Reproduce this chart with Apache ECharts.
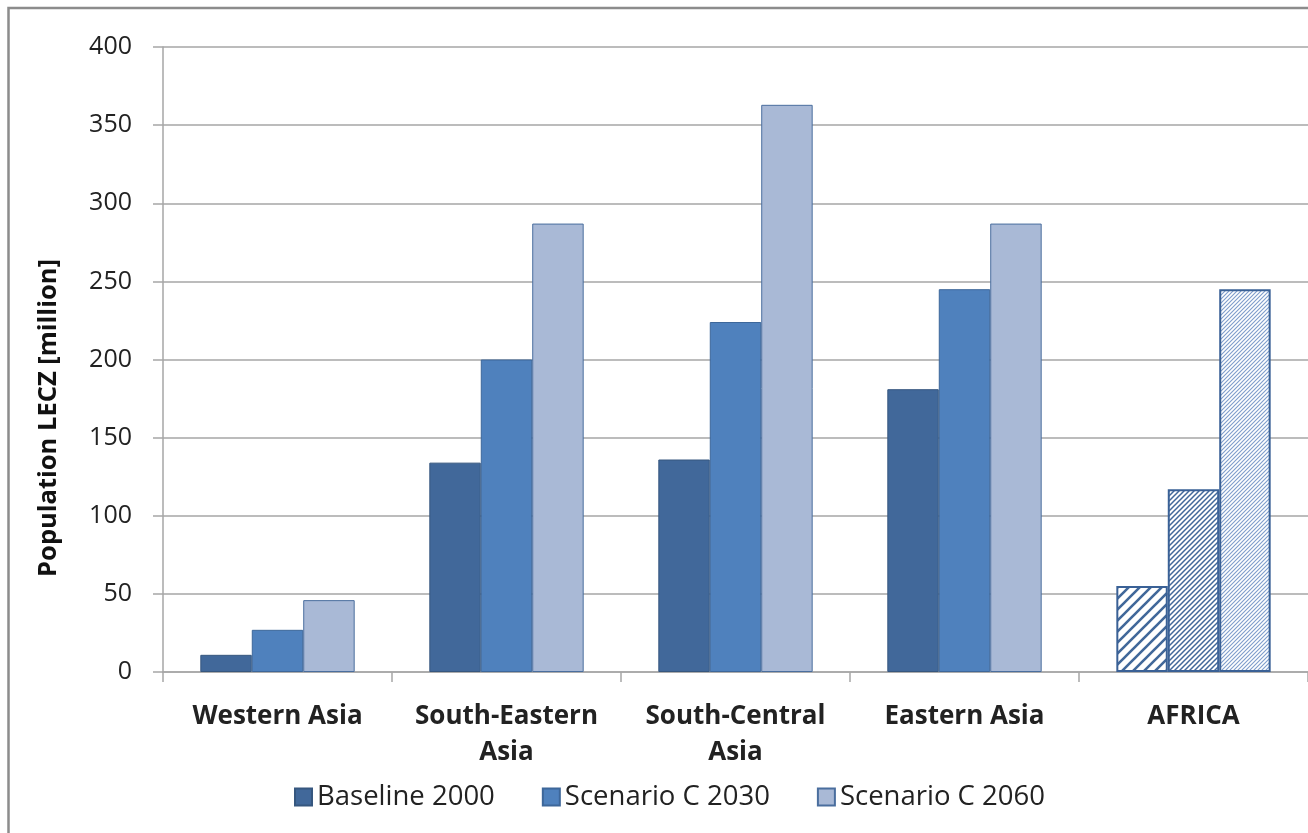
<!DOCTYPE html>
<html>
<head>
<meta charset="utf-8">
<script src="https://cdn.jsdelivr.net/npm/echarts@6/dist/echarts.min.js"></script>
<style>
html,body{margin:0;padding:0;background:#fff;}
#chart{width:1308px;height:833px;}
</style>
</head>
<body>
<div id="chart"></div>
<script>
const categories = ['Western Asia', 'South-Eastern\nAsia', 'South-Central\nAsia', 'Eastern Asia', 'AFRICA'];
const seriesNames = ['Baseline 2000', 'Scenario C 2030', 'Scenario C 2060'];
const baseline2000 = [11, 134, 136, 181, 55];
const scenario2030 = [27, 200, 224, 245, 117];
const scenario2060 = [46, 287, 363, 287, 245];
const yTicks = [0, 50, 100, 150, 200, 250, 300, 350, 400];
const yAxisTitle = 'Population LECZ [million]';

const fills = ['#41689A', '#4F81BD', '#A9B9D6'];
const borders = ['#36577F', '#3D679A', '#4A6E9E'];

function hatch(size, lw, color) {
  const c = document.createElement('canvas');
  c.width = size; c.height = size;
  const ctx = c.getContext('2d');
  ctx.fillStyle = '#ffffff';
  ctx.fillRect(0, 0, size, size);
  ctx.strokeStyle = color;
  ctx.lineWidth = lw;
  ctx.beginPath();
  ctx.moveTo(-size, 2 * size); ctx.lineTo(2 * size, -size);
  ctx.moveTo(-size, size); ctx.lineTo(size, -size);
  ctx.moveTo(0, 2 * size); ctx.lineTo(2 * size, 0);
  ctx.stroke();
  return c;
}
const patterns = [hatch(11, 2.6, '#41689A'), hatch(5, 1.5, '#41689A'), hatch(4, 1.1, '#7E9CCB')];

function build(values, idx) {
  return values.map((v, i) => {
    if (i === categories.length - 1) {
      return { value: v, itemStyle: { color: { image: patterns[idx], repeat: 'repeat' }, borderColor: '#3A6196', borderWidth: 2 } };
    }
    return v;
  });
}

const chart = echarts.init(document.getElementById('chart'));
const font = '"Open Sans", "Liberation Sans", sans-serif';
const allSeries = [baseline2000, scenario2030, scenario2060];
chart.setOption({
  animation: false,
  textStyle: { fontFamily: font },
  graphic: [{
    type: 'rect', silent: true, z: -1,
    shape: { x: 8.5, y: 8, width: 1400, height: 900 },
    style: { fill: 'none', stroke: '#8C8C8C', lineWidth: 2.5 }
  }, {
    type: 'text', silent: true,
    x: 49, y: 418, rotation: Math.PI / 2,
    style: {
      text: yAxisTitle, fontSize: 25.5, fontWeight: 'bold', fill: '#111', fontFamily: font,
      align: 'center', verticalAlign: 'middle'
    }
  }],
  grid: { left: 163, top: 47, bottom: 161, width: 1150 },
  legend: {
    data: seriesNames,
    bottom: 17,
    left: 289,
    icon: 'rect',
    itemWidth: 17,
    itemHeight: 17,
    itemGap: 47,
    textStyle: { fontSize: 27.5, color: '#222', fontFamily: font }
  },
  xAxis: {
    type: 'category',
    data: categories,
    axisLine: { lineStyle: { color: '#A6A6A6', width: 1.5 } },
    axisTick: { show: true, length: 10, interval: 0, lineStyle: { color: '#A6A6A6', width: 1.5 } },
    axisLabel: { interval: 0, fontSize: 26, fontWeight: 'bold', color: '#222', margin: 27, lineHeight: 36, fontFamily: font }
  },
  yAxis: {
    type: 'value',
    min: yTicks[0], max: yTicks[yTicks.length - 1], interval: 50,
    axisLine: { show: true, lineStyle: { color: '#A6A6A6', width: 1.5 } },
    axisTick: { show: true, length: 10, lineStyle: { color: '#A6A6A6', width: 1.5 } },
    splitLine: { lineStyle: { color: '#A6A6A6', width: 1.5 } },
    axisLabel: { fontSize: 25, color: '#222', margin: 31, fontFamily: font }
  },
  series: allSeries.map((vals, i) => ({
    name: seriesNames[i],
    type: 'bar',
    data: build(vals, i),
    barGap: '0%',
    barCategoryGap: '32.6%',
    itemStyle: { color: fills[i], borderColor: borders[i], borderWidth: 1 }
  }))
});
</script>
</body>
</html>
